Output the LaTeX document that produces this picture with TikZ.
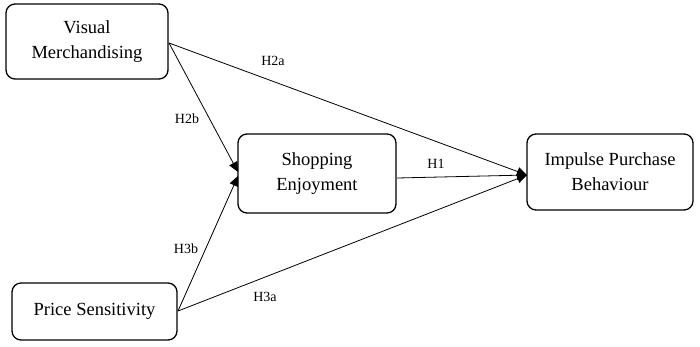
\documentclass[tikz,border=0pt]{standalone}
\usepackage{fontspec}
\setmainfont{Liberation Serif}
\usetikzlibrary{arrows.meta}
\begin{document}
\begin{tikzpicture}[x=1pt,y=-1pt,
  box/.style={draw, line width=1.3pt, rounded corners=9pt, align=center, font=\fontsize{18.5}{25}\selectfont},
  link/.style={line width=0.8pt, -{Triangle[length=10pt,width=9pt]}},
  lbl/.style={font=\fontsize{14}{16}\selectfont}]
\useasboundingbox (0,0) rectangle (700,346);
\node[box, minimum width=162pt, minimum height=75pt] (vm) at (87,41.5) {Visual\\Merchandising};
\node[box, minimum width=165pt, minimum height=57pt] (ps) at (94.5,311.5) {Price Sensitivity};
\node[box, minimum width=158pt, minimum height=79pt] (se) at (317,173.5) {Shopping\\Enjoyment};
\node[box, minimum width=166pt, minimum height=76pt] (ipb) at (610,172) {Impulse Purchase\\Behaviour};
\coordinate (vmo) at (169,43);
\coordinate (pso) at (178,311);
\coordinate (sei1) at (238,172);
\coordinate (sei2) at (238,176);
\coordinate (ipbi) at (527,175);
\coordinate (seo) at (397,178);
\draw[link] (vmo) -- (ipbi);
\draw[link] (vmo) -- (sei1);
\draw[link] (pso) -- (sei2);
\draw[link] (pso) -- (ipbi);
\draw[link] (seo) -- (ipbi);
\node[lbl] (l2a) at (273,61) {H2a};
\node[lbl] (l2b) at (187,119) {H2b};
\node[lbl] (l1) at (436,164) {H1};
\node[lbl] (l3b) at (186,249) {H3b};
\node[lbl] (l3a) at (265,297) {H3a};
\end{tikzpicture}
\end{document}
